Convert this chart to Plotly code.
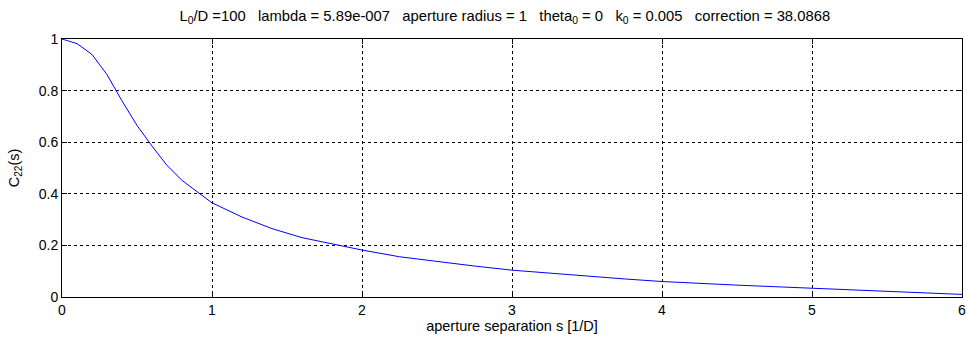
import plotly.graph_objects as go

s_values = [0, 0.1, 0.2, 0.3, 0.4, 0.5, 0.6, 0.7, 0.8, 0.9, 1.0, 1.2, 1.4, 1.6, 1.8, 2.0,
            2.25, 2.5, 2.75, 3.0, 3.25, 3.5, 3.75, 4.0, 4.25, 4.5, 4.75, 5.0, 5.25, 5.5, 5.75, 6.0]
c22_values = [1.0, 0.982, 0.94, 0.862, 0.76, 0.665, 0.585, 0.51, 0.452, 0.41, 0.365, 0.31, 0.265,
              0.23, 0.205, 0.182, 0.156, 0.137, 0.12, 0.104, 0.092, 0.080, 0.070, 0.060, 0.052,
              0.046, 0.040, 0.034, 0.029, 0.023, 0.017, 0.010]
x_ticks = [0, 1, 2, 3, 4, 5, 6]
x_tick_labels = ["0", "1", "2", "3", "4", "5", "6"]
y_ticks = [0, 0.2, 0.4, 0.6, 0.8, 1.0]
y_tick_labels = ["0", "0.2", "0.4", "0.6", "0.8", "1"]

sp = "\u00a0\u00a0\u00a0"
title = ("L<sub>0</sub>/D =100" + sp + "lambda = 5.89e-007" + sp + "aperture radius = 1" + sp +
         "theta<sub>0</sub> = 0" + sp + "k<sub>0</sub> = 0.005" + sp + "correction = 38.0868")

FONT = "Liberation Sans, Arial, sans-serif"

fig = go.Figure()
fig.add_trace(go.Scatter(x=s_values, y=c22_values, mode="lines",
                         line=dict(color="rgb(0,0,255)", width=1), showlegend=False,
                         hoverinfo="skip"))

axis_common = dict(showline=True, linecolor="black", linewidth=1, mirror="ticks",
                   ticks="inside", ticklen=5, tickcolor="black", tickwidth=1,
                   showgrid=True, gridcolor="black", griddash="3px,3px", gridwidth=1,
                   zeroline=False, tickfont=dict(family=FONT, size=14, color="black"))

fig.update_layout(
    width=967, height=343,
    margin=dict(l=62, r=1, t=39, b=46),
    paper_bgcolor="white", plot_bgcolor="white",
    font=dict(family=FONT, size=14, color="black"),
    title=dict(text=title, x=0.522, xanchor="center", y=0.955, yanchor="middle",
               font=dict(family=FONT, size=14.8, color="black")),
    xaxis=dict(range=[0, 6], tickvals=x_ticks, ticktext=x_tick_labels,
               ticklabeloverflow="allow",
               title=dict(text="aperture separation s [1/D]", standoff=3,
                          font=dict(family=FONT, size=14.5)),
               **axis_common),
    yaxis=dict(range=[0, 1], tickvals=y_ticks, ticktext=y_tick_labels,
               title=dict(text="C<sub>22</sub>(s)", standoff=15,
                          font=dict(family=FONT, size=14.5)),
               **axis_common),
)

fig.write_html("out.html")
